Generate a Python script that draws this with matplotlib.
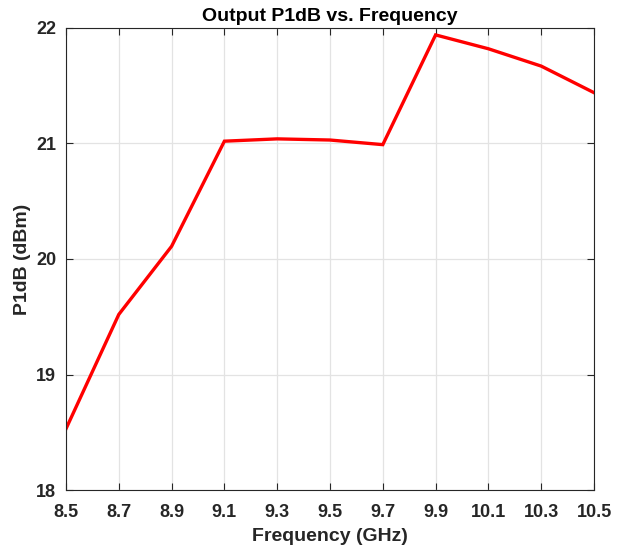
import matplotlib
matplotlib.use('Agg')
from matplotlib import pyplot as plt

freq = [8.5, 8.7, 8.9, 9.1, 9.3, 9.5, 9.7, 9.9, 10.1, 10.3, 10.5]
p1db = [18.53, 19.52, 20.11, 21.02, 21.04, 21.03, 20.99, 21.94, 21.82, 21.67, 21.44]
xticks = [8.5, 8.7, 8.9, 9.1, 9.3, 9.5, 9.7, 9.9, 10.1, 10.3, 10.5]
yticks = [18, 19, 20, 21, 22]

plt.rcParams['font.family'] = ['Liberation Sans', 'DejaVu Sans']
plt.rcParams['font.weight'] = 'bold'

fig = plt.figure(figsize=(6.25, 5.53), dpi=100)
ax = fig.add_axes([0.1056, 0.1139, 0.8448, 0.8355])

ax.plot(freq, p1db, color='#ff0000', linewidth=2.4, solid_joinstyle='miter')
ax.set_xlim(8.5, 10.5)
ax.set_ylim(18, 22)
ax.set_xticks(xticks)
ax.set_xticklabels([f'{v:g}' for v in xticks])
ax.set_yticks(yticks)
ax.grid(True, color='#e3e3e3', linewidth=0.9)
ax.set_axisbelow(True)
ax.tick_params(direction='in', length=5, width=0.8, top=True, right=True,
               labelsize=13, colors='#262626')
ax.tick_params(axis='x', pad=10)
ax.tick_params(axis='y', pad=7)
for s in ax.spines.values():
    s.set_color('#262626')
    s.set_linewidth(0.8)

ax.set_title('Output P1dB vs. Frequency', fontsize=14, fontweight='bold', pad=5)
ax.set_xlabel('Frequency (GHz)', fontsize=14, fontweight='bold', color='#262626', labelpad=5)
ax.set_ylabel('P1dB (dBm)', fontsize=14, fontweight='bold', color='#262626', labelpad=4)

fig.savefig('out.png', dpi=100)
